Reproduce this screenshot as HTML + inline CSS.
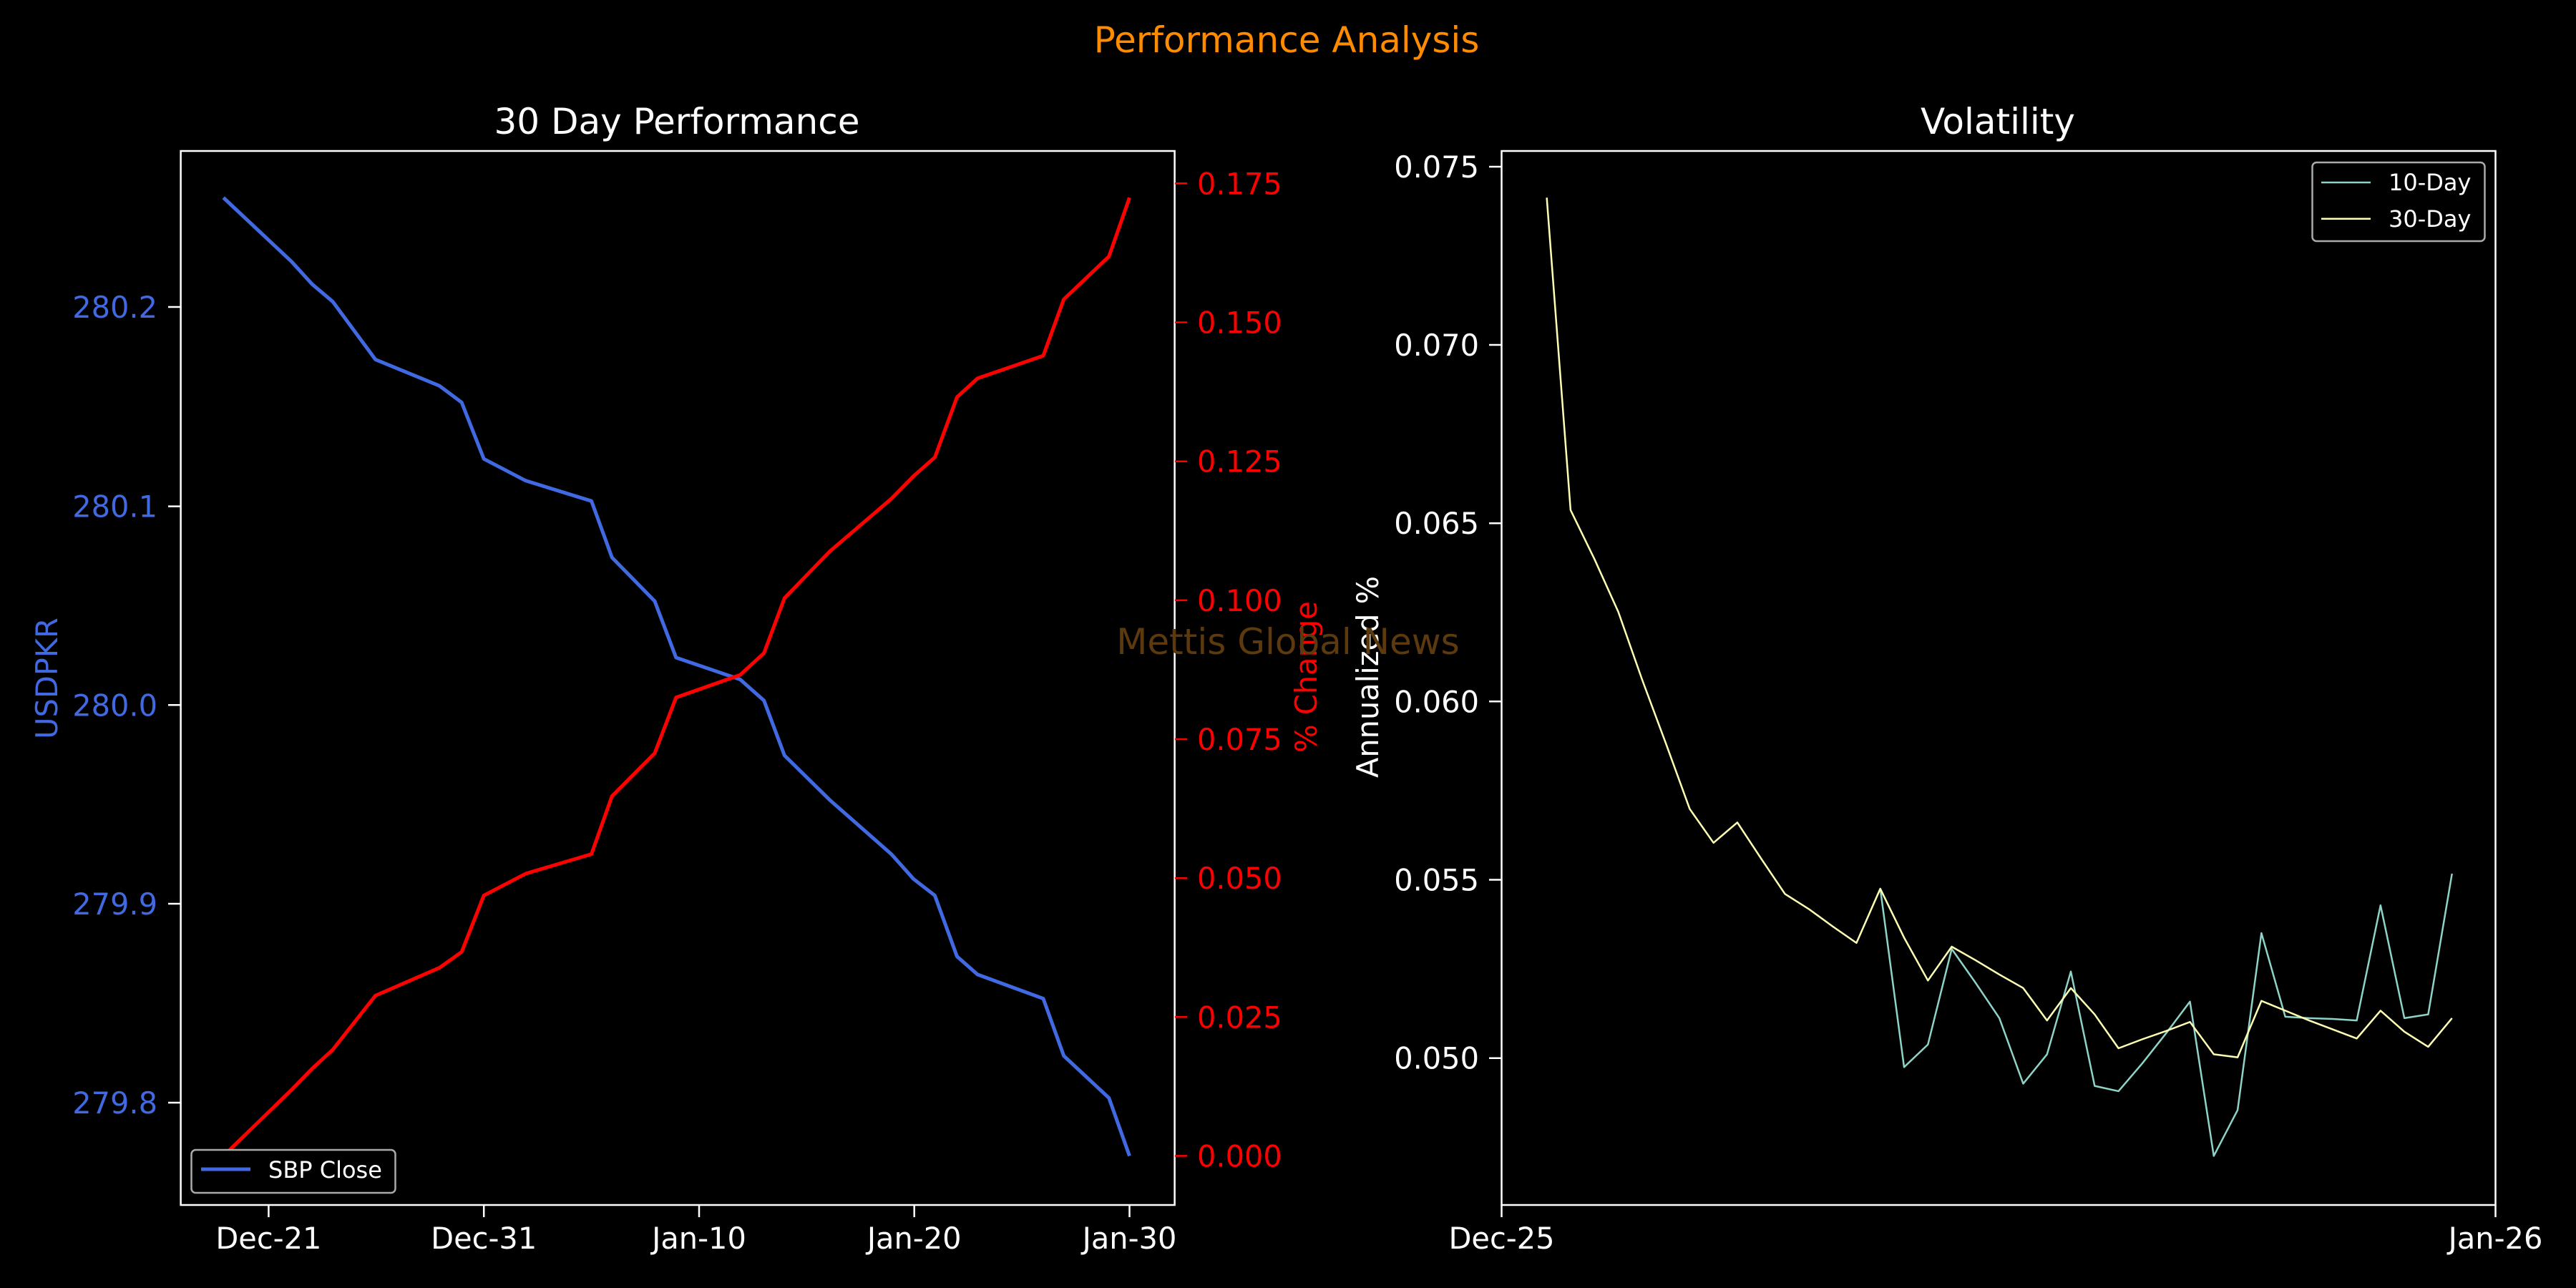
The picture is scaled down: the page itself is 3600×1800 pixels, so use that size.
<!DOCTYPE html>
<html><head><meta charset="utf-8"><style>
html,body{margin:0;padding:0;background:#000;}
svg{display:block;}
text{font-family:"DejaVu Sans","Liberation Sans",sans-serif;}
</style></head><body>
<svg width="3600" height="1800" viewBox="0 0 3600 1800" xmlns="http://www.w3.org/2000/svg">
<rect width="3600" height="1800" fill="#000"/>
<text x="1798" y="73" font-size="50" fill="#ff8c00" text-anchor="middle">Performance Analysis</text>
<text x="946" y="187" font-size="50" fill="#fff" text-anchor="middle">30 Day Performance</text>
<text x="2792" y="187" font-size="50" fill="#fff" text-anchor="middle">Volatility</text>

<g transform="translate(0,150) scale(1.148,1.052)" fill="none" stroke-linejoin="round">
<polyline vector-effect="non-scaling-stroke" stroke="#4169e1" stroke-width="5" points="272,120 355,205 380,235 405,258 457,335 535,370 562,392 589,467 640,496 720,523 745,598 797,656 823,731 901,760 930,788 955,861 1010,920 1085,992 1112,1025 1138,1047 1165,1128 1190,1152 1270,1184 1295,1260 1350,1316 1375,1393"/>
<polyline vector-effect="non-scaling-stroke" stroke="#ff0000" stroke-width="5" points="272,1393 355,1305 380,1277 405,1252 457,1180 535,1143 562,1122 589,1047 640,1018 720,992 745,915 797,858 823,784 901,754 930,725 955,652 1010,590 1085,520 1112,490 1138,465 1165,385 1190,360 1270,330 1295,255 1350,198 1375,120"/>
</g>
<rect x="252.6" y="211" width="1389" height="1473" fill="none" stroke="#fff" stroke-width="2.5"/>
<g stroke="#fff" stroke-width="2.5">
<line x1="235" y1="429" x2="252" y2="429"/><line x1="235" y1="707.6" x2="252" y2="707.6"/><line x1="235" y1="985.3" x2="252" y2="985.3"/><line x1="235" y1="1263" x2="252" y2="1263"/><line x1="235" y1="1541" x2="252" y2="1541"/>
<line x1="375.4" y1="1684" x2="375.4" y2="1701"/><line x1="676.2" y1="1684" x2="676.2" y2="1701"/><line x1="977" y1="1684" x2="977" y2="1701"/><line x1="1277.7" y1="1684" x2="1277.7" y2="1701"/><line x1="1578.5" y1="1684" x2="1578.5" y2="1701"/>
</g>
<g stroke="#ff0000" stroke-width="2.5">
<line x1="1642" y1="256.3" x2="1659" y2="256.3"/><line x1="1642" y1="450.5" x2="1659" y2="450.5"/><line x1="1642" y1="644.7" x2="1659" y2="644.7"/><line x1="1642" y1="838.9" x2="1659" y2="838.9"/><line x1="1642" y1="1033" x2="1659" y2="1033"/><line x1="1642" y1="1227.2" x2="1659" y2="1227.2"/><line x1="1642" y1="1421.3" x2="1659" y2="1421.3"/><line x1="1642" y1="1615.4" x2="1659" y2="1615.4"/>
</g>
<g font-size="41.5" fill="#4169e1" text-anchor="end">
<text x="220" y="444">280.2</text><text x="220" y="722.6">280.1</text><text x="220" y="1000.3">280.0</text><text x="220" y="1278">279.9</text><text x="220" y="1556">279.8</text>
</g>
<g font-size="41.5" fill="#ff0000">
<text x="1673" y="271.3">0.175</text><text x="1673" y="465.5">0.150</text><text x="1673" y="659.7">0.125</text><text x="1673" y="853.9">0.100</text><text x="1673" y="1048">0.075</text><text x="1673" y="1242.2">0.050</text><text x="1673" y="1436.3">0.025</text><text x="1673" y="1630.4">0.000</text>
</g>
<g font-size="41.5" fill="#fff" text-anchor="middle">
<text x="375.4" y="1745">Dec-21</text><text x="676.2" y="1745">Dec-31</text><text x="977" y="1745">Jan-10</text><text x="1277.7" y="1745">Jan-20</text><text x="1578.5" y="1745">Jan-30</text>
</g>
<text transform="translate(80,948) rotate(-90)" font-size="41.5" fill="#4169e1" text-anchor="middle">USDPKR</text>
<text transform="translate(1840,946) rotate(-90)" font-size="41.5" fill="#ff0000" text-anchor="middle">% Change</text>
<rect x="267.5" y="1607" width="285" height="60" rx="6" fill="#000" stroke="#aaa" stroke-width="2.5"/>
<line x1="281" y1="1634" x2="350" y2="1634" stroke="#4169e1" stroke-width="5"/>
<text x="375" y="1646" font-size="32" fill="#fff">SBP Close</text>

<g transform="translate(1800,150) scale(1.148,1.052)" fill="none" stroke-linejoin="round">
<polyline vector-effect="non-scaling-stroke" stroke="#8dd3c7" stroke-width="2.5" points="721,1038 750,1275 779,1245 808,1118 837,1163 866,1210 895,1297 924,1258 953,1148 982,1300 1011,1307 1040,1270 1069,1230 1098,1188 1127,1393 1156,1332 1185,1097 1214,1208 1243,1210 1272,1211 1301,1213 1330,1060 1359,1210 1388,1205 1417,1018"/>
<polyline vector-effect="non-scaling-stroke" stroke="#ffffb3" stroke-width="2.5" points="315,120 344,535 373,600 402,670 431,760 460,845 489,932 518,977 547,950 576,998 605,1045 634,1065 663,1088 692,1110 721,1038 750,1103 779,1160 808,1115 837,1133 866,1152 895,1170 924,1213 953,1170 982,1205 1011,1250 1040,1238 1069,1227 1098,1215 1127,1258 1156,1262 1185,1187 1214,1200 1243,1213 1272,1225 1301,1237 1330,1200 1359,1228 1388,1248 1417,1210"/>
</g>
<rect x="2098.5" y="211" width="1389" height="1473" fill="none" stroke="#fff" stroke-width="2.5"/>
<g stroke="#fff" stroke-width="2.5">
<line x1="2081" y1="233" x2="2098" y2="233"/><line x1="2081" y1="482" x2="2098" y2="482"/><line x1="2081" y1="731.2" x2="2098" y2="731.2"/><line x1="2081" y1="980.3" x2="2098" y2="980.3"/><line x1="2081" y1="1229.5" x2="2098" y2="1229.5"/><line x1="2081" y1="1478.7" x2="2098" y2="1478.7"/>
<line x1="2098.5" y1="1684" x2="2098.5" y2="1701"/><line x1="3487.5" y1="1684" x2="3487.5" y2="1701"/>
</g>
<g font-size="41.5" fill="#fff" text-anchor="end">
<text x="2067" y="248">0.075</text><text x="2067" y="497">0.070</text><text x="2067" y="746.2">0.065</text><text x="2067" y="995.3">0.060</text><text x="2067" y="1244.5">0.055</text><text x="2067" y="1493.7">0.050</text>
</g>
<g font-size="41.5" fill="#fff" text-anchor="middle">
<text x="2098.5" y="1745">Dec-25</text><text x="3487.5" y="1745">Jan-26</text>
</g>
<text transform="translate(1926,946) rotate(-90)" font-size="41.5" fill="#fff" text-anchor="middle">Annualized %</text>
<rect x="3231.5" y="227" width="241" height="110" rx="6" fill="#000" stroke="#aaa" stroke-width="2.5"/>
<line x1="3244" y1="255" x2="3313" y2="255" stroke="#8dd3c7" stroke-width="2.5"/>
<line x1="3244" y1="305.7" x2="3313" y2="305.7" stroke="#ffffb3" stroke-width="2.5"/>
<text x="3338" y="266" font-size="32" fill="#fff">10-Day</text>
<text x="3338" y="317" font-size="32" fill="#fff">30-Day</text>

<text x="1800" y="914" font-size="50" fill="#5c3a0e" text-anchor="middle">Mettis Global News</text>
</svg>
</body></html>
